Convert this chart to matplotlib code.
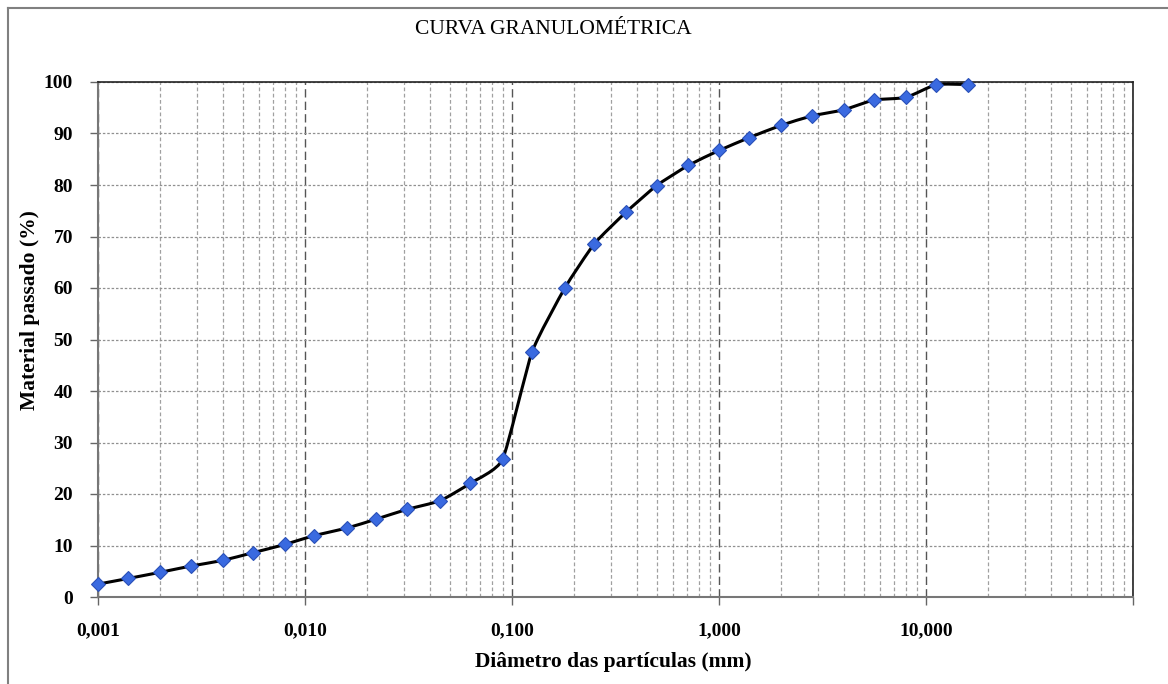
import numpy as np
import matplotlib
matplotlib.use("Agg")
import matplotlib.pyplot as plt
from matplotlib.path import Path
from matplotlib.patches import PathPatch
from matplotlib.ticker import FixedLocator, FuncFormatter, LogLocator, NullFormatter
from matplotlib.lines import Line2D

# Granulometric data: particle diameter (mm) and passing material (%)
diametro = [0.001, 0.0014, 0.002, 0.0028, 0.004, 0.0056, 0.008, 0.011, 0.016,
            0.022, 0.031, 0.045, 0.063, 0.09, 0.125, 0.18, 0.25, 0.355, 0.5,
            0.71, 1.0, 1.4, 2.0, 2.8, 4.0, 5.6, 8.0, 11.2, 16.0]
passado = [2.5, 3.6, 4.8, 6.0, 7.1, 8.6, 10.2, 11.9, 13.4, 15.1, 17.0, 18.7,
           22.1, 26.7, 47.6, 60.0, 68.6, 74.7, 79.9, 83.8, 86.7, 89.2, 91.6,
           93.4, 94.6, 96.5, 97.0, 99.5, 99.5]
xMajor = [0.001, 0.01, 0.1, 1, 10, 100]
xLabels = ["0,001", "0,010", "0,100", "1,000", "10,000", ""]
yTicks = list(range(0, 101, 10))

serif = ["Liberation Serif", "DejaVu Serif"]
plt.rcParams["font.family"] = serif

fig = plt.figure(figsize=(11.68, 6.84), dpi=100)
ax = fig.add_axes([98 / 1168, 1 - 597 / 684, (1133 - 98) / 1168, (597 - 82) / 684])

# Frame around the chart area
fig.add_artist(Line2D([8 / 1168, 1.0], [1 - 8 / 684] * 2, color="#808080", lw=1.5))
fig.add_artist(Line2D([8 / 1168] * 2, [0.0, 1 - 8 / 684], color="#808080", lw=1.5))

ax.set_xscale("log")
ax.set_xlim(0.001, 100)
ax.set_ylim(0, 100)

# Smoothed line (cardinal spline through the points, in log-x space)
tension = 1 / 12
u = np.log10(diametro)
v = np.array(passado, dtype=float)
n = len(u)
verts = [(diametro[0], passado[0])]
codes = [Path.MOVETO]
for i in range(n - 1):
    u0, v0 = (u[i - 1], v[i - 1]) if i > 0 else (u[i], v[i])
    u3, v3 = (u[i + 2], v[i + 2]) if i < n - 2 else (u[i + 1], v[i + 1])
    c1u = u[i] + (u[i + 1] - u0) * tension
    c1v = v[i] + (v[i + 1] - v0) * tension
    c2u = u[i + 1] - (u3 - u[i]) * tension
    c2v = v[i + 1] - (v3 - v[i]) * tension
    verts += [(10 ** c1u, c1v), (10 ** c2u, c2v), (diametro[i + 1], passado[i + 1])]
    codes += [Path.CURVE4] * 3
curve = PathPatch(Path(verts, codes), facecolor="none", edgecolor="black",
                  lw=2.2, zorder=3, clip_on=False)
ax.add_patch(curve)
ax.plot(diametro, passado, linestyle="none", marker="D", markersize=7.5,
        markerfacecolor="#3a6ae0", markeredgecolor="#2a50b8", markeredgewidth=0.8,
        zorder=4, clip_on=False)

# Grid
ax.xaxis.set_major_locator(FixedLocator(xMajor))
ax.xaxis.set_major_formatter(FuncFormatter(lambda val, pos: xLabels[pos] if pos is not None and pos < len(xLabels) else ""))
ax.xaxis.set_minor_locator(LogLocator(base=10, subs=np.arange(2, 10), numticks=20))
ax.xaxis.set_minor_formatter(NullFormatter())
ax.set_yticks(yTicks)
ax.grid(True, which="major", axis="x", color="#555555", linestyle=(0, (6, 3)), lw=1.0)
ax.grid(True, which="minor", axis="x", color="#a0a0a0", linestyle=(0, (3, 2)), lw=0.9)
ax.grid(True, which="major", axis="y", color="#909090", linestyle=(0, (2, 1.5)), lw=0.9)
ax.set_axisbelow(True)

ax.tick_params(axis="x", which="major", direction="out", length=6, width=1,
               color="#666666", pad=12, labelsize=14)
ax.tick_params(axis="x", which="minor", length=0)
ax.tick_params(axis="y", direction="out", length=6, width=1, color="#666666",
               pad=12, labelsize=14)
for lbl in ax.get_xticklabels() + ax.get_yticklabels():
    lbl.set_fontweight("bold")

for side in ["top", "right"]:
    ax.spines[side].set_color("#222222")
    ax.spines[side].set_linewidth(1.2)
for side in ["left", "bottom"]:
    ax.spines[side].set_color("#777777")
    ax.spines[side].set_linewidth(1.5)

fig.text(553 / 1168, 1 - 30 / 684, "CURVA GRANULOMÉTRICA", ha="center", va="center",
         fontsize=15.5)
fig.text(613 / 1168, 1 - 662 / 684, "Diâmetro das partículas (mm)", ha="center",
         va="center", fontsize=15.5, fontweight="bold")
fig.text(30 / 1168, 1 - 310 / 684, "Material passado (%)", ha="center", va="center",
         rotation=90, fontsize=15.5, fontweight="bold")

plt.savefig("out.png", dpi=100)
